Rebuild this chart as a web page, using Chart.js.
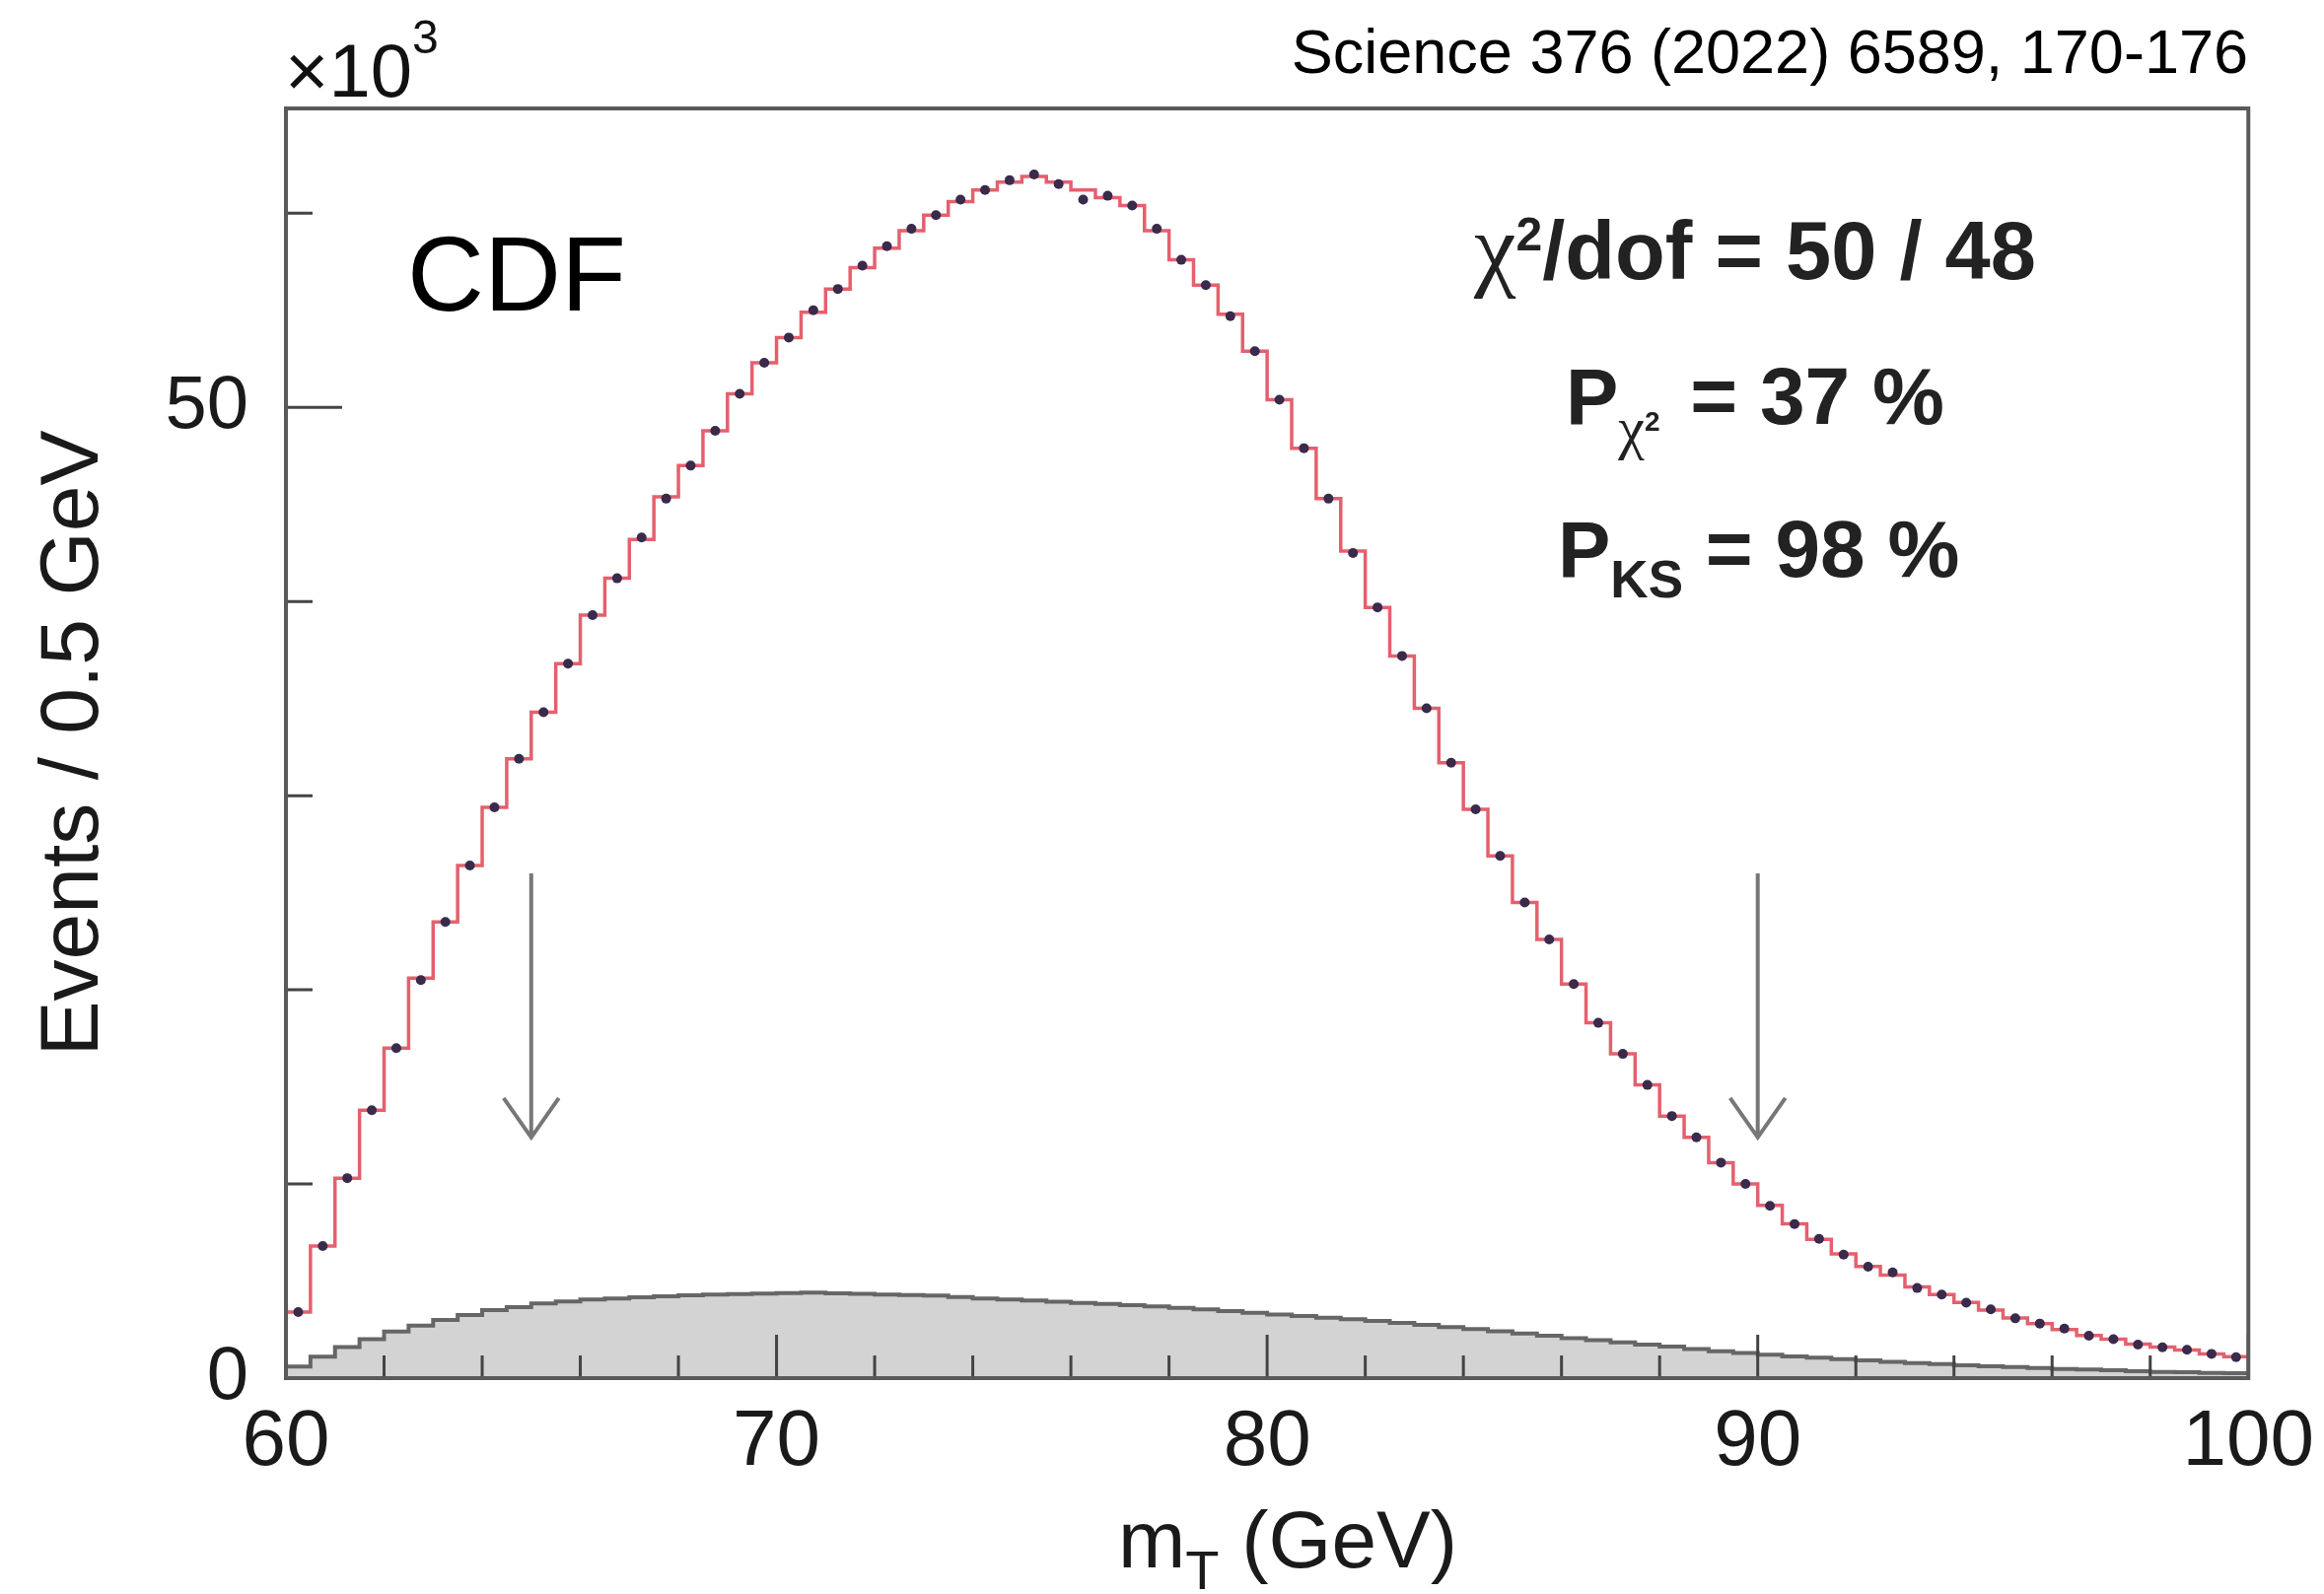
<!DOCTYPE html>
<html lang="en">
<head>
<meta charset="UTF-8">
<title>CDF mT fit</title>
<style>
  html, body { margin: 0; padding: 0; background: #fff; }
  #wrap { width: 2357px; height: 1617px; }
</style>
</head>
<body>
<div id="wrap"><canvas id="mtChart" width="2357" height="1617"></canvas></div>
<script src="https://cdn.jsdelivr.net/npm/chart.js"></script>
<script>
// m_T histogram, 0.5 GeV bins from 60 to 100 GeV, values in units of 10^3 events
const binLow = 60;
const binWidth = 0.5;

// fitted template (red step line)
const modelK = [
  3.4, 6.8, 10.3, 13.8, 17.0, 20.6, 23.5, 26.4, 29.4, 31.9,
  34.3, 36.8, 39.3, 41.2, 43.2, 45.4, 47.0, 48.8, 50.7, 52.3,
  53.6, 54.9, 56.1, 57.2, 58.2, 59.1, 59.9, 60.6, 61.2, 61.6,
  61.9, 61.6, 61.2, 60.8, 60.4, 59.1, 57.6, 56.3, 54.8, 52.9,
  50.4, 47.9, 45.3, 42.6, 39.7, 37.2, 34.5, 31.7, 29.3, 26.9,
  24.5, 22.6, 20.3, 18.3, 16.7, 15.1, 13.5, 12.4, 11.1, 10.0,
  8.9, 7.95, 7.15, 6.4, 5.75, 5.3, 4.7, 4.3, 3.9, 3.5,
  3.1, 2.8, 2.5, 2.2, 2.0, 1.75, 1.6, 1.45, 1.25, 1.1
];

// measured data points (bin centres)
const dataK = [
  3.4, 6.8, 10.3, 13.8, 17.0, 20.5, 23.5, 26.4, 29.4, 31.9,
  34.3, 36.8, 39.3, 41.2, 43.3, 45.3, 47.0, 48.8, 50.7, 52.3,
  53.6, 55.0, 56.1, 57.3, 58.3, 59.2, 59.9, 60.7, 61.2, 61.7,
  62.0, 61.5, 60.7, 60.9, 60.4, 59.2, 57.6, 56.3, 54.7, 52.9,
  50.4, 47.9, 45.3, 42.5, 39.7, 37.2, 34.5, 31.7, 29.3, 26.9,
  24.5, 22.6, 20.3, 18.3, 16.7, 15.1, 13.5, 12.4, 11.1, 10.0,
  8.87, 7.93, 7.17, 6.36, 5.74, 5.45, 4.64, 4.3, 3.88, 3.54,
  3.08, 2.81, 2.55, 2.18, 2.01, 1.73, 1.59, 1.46, 1.25, 1.08
];

// background (grey filled histogram)
const bkgK = [
  0.6, 1.1, 1.6, 2.0, 2.4, 2.7, 3.0, 3.25, 3.5, 3.65,
  3.85, 3.95, 4.05, 4.1, 4.17, 4.22, 4.27, 4.3, 4.33, 4.36,
  4.38, 4.4, 4.37, 4.34, 4.3, 4.28, 4.25, 4.18, 4.1, 4.05,
  4.0, 3.93, 3.87, 3.82, 3.76, 3.69, 3.62, 3.54, 3.45, 3.37,
  3.28, 3.2, 3.11, 3.03, 2.94, 2.84, 2.74, 2.63, 2.52, 2.41,
  2.3, 2.18, 2.06, 1.95, 1.84, 1.73, 1.62, 1.5, 1.39, 1.3,
  1.2, 1.12, 1.05, 0.98, 0.91, 0.84, 0.78, 0.72, 0.66, 0.61,
  0.57, 0.52, 0.47, 0.44, 0.41, 0.36, 0.32, 0.3, 0.27, 0.25
];

const xTickLabels = [60, 70, 80, 90, 100];
const yTickLabels = [0, 50];
const fitWindow = [65, 90];   // arrows mark the fit range
const arrowTop = 26;
const arrowTip = 12.4;

const SANS = '"Liberation Sans", Arial, Helvetica, sans-serif';
const SERIF = '"Liberation Serif", "Times New Roman", serif';

function stepPoints(vals) {
  const pts = vals.map((v, i) => ({ x: binLow + i * binWidth, y: v }));
  pts.push({ x: binLow + vals.length * binWidth, y: vals[vals.length - 1] });
  return pts;
}

function runText(ctx, x, y, segs) {
  for (const s of segs) {
    ctx.font = s.font;
    ctx.fillText(s.t, x, y + (s.dy || 0));
    x += ctx.measureText(s.t).width + (s.gap || 0);
  }
}

const decorations = {
  id: 'decorations',
  afterDatasetsDraw(chart) {
    const { ctx, chartArea: a, scales: { x, y } } = chart;
    ctx.save();

    // inward tick marks
    ctx.strokeStyle = '#444';
    ctx.lineWidth = 3;
    ctx.beginPath();
    for (let v = 60; v <= 100; v += 2) {
      const px = x.getPixelForValue(v);
      const len = xTickLabels.includes(v) ? 44 : 23;
      ctx.moveTo(px, a.bottom);
      ctx.lineTo(px, a.bottom - len);
    }
    for (let v = 0; v <= 60; v += 10) {
      const py = y.getPixelForValue(v);
      const len = yTickLabels.includes(v) ? 57 : 27;
      ctx.moveTo(a.left, py);
      ctx.lineTo(a.left + len, py);
    }
    ctx.stroke();

    // frame
    ctx.strokeStyle = '#5a5a5a';
    ctx.lineWidth = 4;
    ctx.strokeRect(a.left, a.top, a.right - a.left, a.bottom - a.top);

    // fit-window arrows
    ctx.strokeStyle = '#777';
    ctx.lineWidth = 4;
    for (const xv of fitWindow) {
      const px = x.getPixelForValue(xv);
      const y0 = y.getPixelForValue(arrowTop);
      const y1 = y.getPixelForValue(arrowTip);
      ctx.beginPath();
      ctx.moveTo(px, y0);
      ctx.lineTo(px, y1);
      ctx.moveTo(px - 28, y1 - 40);
      ctx.lineTo(px, y1);
      ctx.lineTo(px + 28, y1 - 40);
      ctx.stroke();
    }
    ctx.restore();
  },
  afterDraw(chart) {
    const { ctx } = chart;
    ctx.save();
    ctx.fillStyle = '#111';
    ctx.textBaseline = 'alphabetic';
    ctx.textAlign = 'left';

    // x10^3 multiplier
    runText(ctx, 289, 98, [
      { t: '\u00d710', font: `76px ${SANS}` },
      { t: '3', font: `48px ${SANS}`, dy: -44 }
    ]);

    // reference
    ctx.textAlign = 'right';
    ctx.font = `63px ${SANS}`;
    ctx.fillStyle = '#000';
    ctx.fillText('Science 376 (2022) 6589, 170-176', 2280, 74);
    ctx.textAlign = 'left';

    ctx.font = `108px ${SANS}`;
    ctx.fillText('CDF', 413, 315);

    // fit statistics
    ctx.fillStyle = '#222';
    runText(ctx, 1495, 283, [
      { t: '\u03c7', font: `96px ${SERIF}` },
      { t: '2', font: `bold 48px ${SANS}`, dy: -29 },
      { t: '/dof = 50 / 48', font: `bold 83px ${SANS}` }
    ]);
    runText(ctx, 1588, 430, [
      { t: 'P', font: `bold 80px ${SANS}` },
      { t: '\u03c7', font: `60px ${SERIF}`, dy: 24 },
      { t: '2', font: `bold 28px ${SANS}`, dy: 7, gap: 8 },
      { t: ' = 37 %', font: `bold 82px ${SANS}` }
    ]);
    runText(ctx, 1580, 585, [
      { t: 'P', font: `bold 80px ${SANS}` },
      { t: 'KS', font: `bold 53px ${SANS}`, dy: 21 },
      { t: ' = 98 %', font: `bold 82px ${SANS}` }
    ]);

    // x axis title with subscript
    ctx.fillStyle = '#1a1a1a';
    runText(ctx, 1134, 1590, [
      { t: 'm', font: `82px ${SANS}` },
      { t: 'T', font: `56px ${SANS}`, dy: 22 },
      { t: ' (GeV)', font: `82px ${SANS}` }
    ]);
    ctx.restore();
  }
};

new Chart(document.getElementById('mtChart'), {
  type: 'line',
  data: {
    datasets: [
      {
        label: 'Data',
        data: dataK.map((v, i) => ({ x: binLow + (i + 0.5) * binWidth, y: v })),
        showLine: false,
        pointRadius: 5,
        pointBackgroundColor: '#3a2a4c',
        pointBorderWidth: 0,
        order: 0
      },
      {
        label: 'Fit',
        data: stepPoints(modelK),
        stepped: true,
        borderColor: '#e4606e',
        borderWidth: 3.5,
        pointRadius: 0,
        fill: false,
        order: 1
      },
      {
        label: 'Background',
        data: stepPoints(bkgK),
        stepped: true,
        borderColor: '#666',
        borderWidth: 4,
        backgroundColor: '#d3d3d3',
        pointRadius: 0,
        fill: 'origin',
        order: 2
      }
    ]
  },
  options: {
    responsive: false,
    animation: false,
    devicePixelRatio: 1,
    layout: { padding: { top: 110, right: 75, left: 0, bottom: 0 } },
    plugins: { legend: { display: false }, tooltip: { enabled: false } },
    scales: {
      x: {
        type: 'linear',
        min: 60,
        max: 100,
        afterBuildTicks: s => { s.ticks = xTickLabels.map(v => ({ value: v })); },
        afterFit: s => { s.height = 219; },
        ticks: { font: { size: 80, family: SANS }, color: '#1a1a1a', padding: 10, maxRotation: 0, autoSkip: false },
        grid: { display: false },
        border: { display: false }
      },
      y: {
        type: 'linear',
        min: 0,
        max: 65.4,
        afterBuildTicks: s => { s.ticks = yTickLabels.map(v => ({ value: v })); },
        afterFit: s => { s.width = 290; },
        ticks: { font: { size: 76, family: SANS }, color: '#1a1a1a', padding: 30 },
        grid: { display: false },
        border: { display: false },
        title: {
          display: true,
          text: 'Events / 0.5 GeV',
          font: { size: 84, family: SANS },
          color: '#1a1a1a',
          padding: { top: 25, bottom: 0 }
        }
      }
    }
  },
  plugins: [decorations]
});
</script>
</body>
</html>
